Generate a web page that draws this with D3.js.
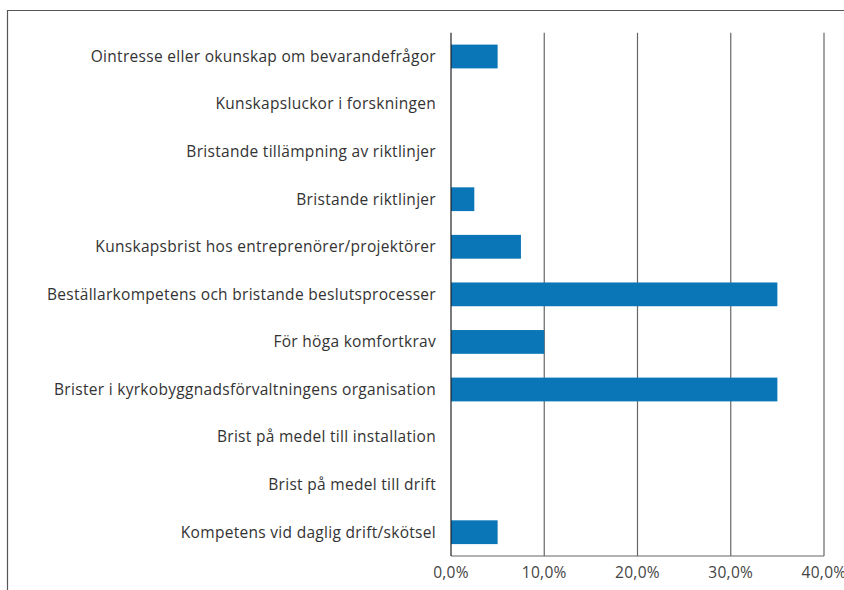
<!DOCTYPE html>
<html><head><meta charset="utf-8">
<script src="https://cdn.jsdelivr.net/npm/d3@7"></script>
<style>body{margin:0;background:#fff}svg{display:block}</style>
</head><body>
<script>
const categories = [
  "Ointresse eller okunskap om bevarandefrågor",
  "Kunskapsluckor i forskningen",
  "Bristande tillämpning av riktlinjer",
  "Bristande riktlinjer",
  "Kunskapsbrist hos entreprenörer/projektörer",
  "Beställarkompetens och bristande beslutsprocesser",
  "För höga komfortkrav",
  "Brister i kyrkobyggnadsförvaltningens organisation",
  "Brist på medel till installation",
  "Brist på medel till drift",
  "Kompetens vid daglig drift/skötsel"
];
const values = [5, 0, 0, 2.5, 7.5, 35, 10, 35, 0, 0, 5];
const ticks = [0, 10, 20, 30, 40];
const tickLabels = ["0,0%", "10,0%", "20,0%", "30,0%", "40,0%"];

const W = 844, H = 590;
const svg = d3.select("body").append("svg").attr("width", W).attr("height", H);
const font = "'Open Sans', sans-serif";

// frame
svg.append("path").attr("d", "M7.5,590 V10.5 H844").attr("fill", "none").attr("stroke", "#555").attr("stroke-width", 1.2);

const x = d3.scaleLinear().domain([0, 40]).range([451, 824]);
const y = d3.scaleBand().domain(categories).range([32.7, 556]).paddingInner(0.5).paddingOuter(0.25);

// grid
svg.append("g").selectAll("line").data(ticks.slice(1)).join("line")
  .attr("x1", d => x(d)).attr("x2", d => x(d)).attr("y1", 32.7).attr("y2", 556)
  .attr("stroke", "#666").attr("stroke-width", 1.2);
svg.append("line").attr("x1", x(0)).attr("x2", x(40)).attr("y1", 556).attr("y2", 556)
  .attr("stroke", "#666").attr("stroke-width", 1.2);

// bars
svg.append("g").selectAll("rect").data(values).join("rect")
  .attr("x", x(0)).attr("y", (d, i) => y(categories[i]))
  .attr("width", d => x(d) - x(0)).attr("height", y.bandwidth())
  .attr("fill", "#0A76B7");

// zero axis
svg.append("line").attr("x1", x(0)).attr("x2", x(0)).attr("y1", 32.7).attr("y2", 556)
  .attr("stroke", "#222").attr("stroke-width", 1.2);

// category labels
svg.append("g").selectAll("text").data(categories).join("text")
  .attr("x", 436).attr("y", d => y(d) + y.bandwidth() / 2)
  .attr("dy", "0.35em").attr("text-anchor", "end")
  .attr("font-family", font).attr("font-size", 15.5).attr("letter-spacing", 0.3).attr("fill", "#333")
  .text(d => d);

// tick labels
svg.append("g").selectAll("text").data(ticks).join("text")
  .attr("x", d => x(d)).attr("y", 573).attr("dy", "0.35em").attr("text-anchor", "middle")
  .attr("font-family", font).attr("font-size", 15.5).attr("letter-spacing", 0.3).attr("fill", "#444")
  .text((d, i) => tickLabels[i]);
</script>
</body></html>
